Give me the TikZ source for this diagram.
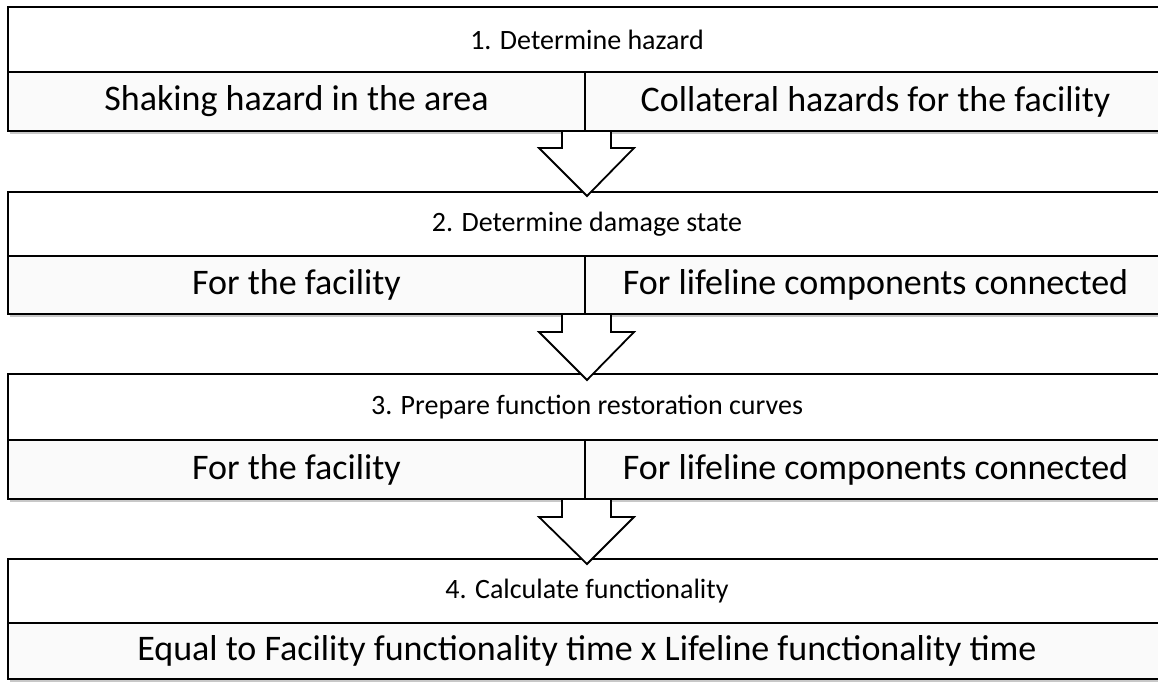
\documentclass[tikz,border=0pt]{standalone}
\usepackage{fontspec}
\setmainfont{Carlito}
\definecolor{lowfill}{HTML}{FAFAFA}
\definecolor{shadowc}{HTML}{C8C8C8}
\begin{document}
\begin{tikzpicture}[x=1pt,y=-1pt,
  hdr/.style={draw, line width=1.8pt, fill=white, inner sep=0pt, outer sep=0pt,
    minimum width=1158pt, font=\fontsize{28}{32}\selectfont},
  cell/.style={draw, line width=1.8pt, fill=lowfill, inner sep=0pt, outer sep=0pt,
    font=\fontsize{36}{40}\selectfont},
  lcell/.style={cell, minimum width=577pt},
  rcell/.style={cell, minimum width=581pt},
  wcell/.style={cell, minimum width=1158pt},
  blockarrow/.style={draw, line width=1.8pt, fill=white, line join=miter},
  shadowbox/.style={fill=shadowc}]
\useasboundingbox (0,0) rectangle (1158,681);
\clip (0,0) rectangle (1158,681);
\fill[white] (0,0) rectangle (1158,681);

% shadows
\fill[shadowbox] (10,9) rectangle (1168,134);
\fill[shadowbox] (10,194) rectangle (1168,317);
\fill[shadowbox] (10,376) rectangle (1168,502);
\fill[shadowbox] (10,561) rectangle (1168,682);

% row 1
\node[hdr, minimum height=65pt] (h1) at (587,39.5) {1. Determine hazard};
\node[lcell, minimum height=59pt] (l1) at (296.5,101.5) {Shaking hazard in the area};
\node[rcell, minimum height=59pt] (r1) at (875.5,101.5) {Collateral hazards for the facility};

% row 2
\node[hdr, minimum height=64pt] (h2) at (587,224) {2. Determine damage state};
\node[lcell, minimum height=58pt] (l2) at (296.5,285) {For the facility};
\node[rcell, minimum height=58pt] (r2) at (875.5,285) {For lifeline components connected};

% row 3
\node[hdr, minimum height=66pt] (h3) at (587,407) {3. Prepare function restoration curves};
\node[lcell, minimum height=59pt] (l3) at (296.5,469.5) {For the facility};
\node[rcell, minimum height=59pt] (r3) at (875.5,469.5) {For lifeline components connected};

% row 4
\node[hdr, minimum height=64pt] (h4) at (587,591) {4. Calculate functionality};
\node[wcell, minimum height=56pt] (l4) at (587,651) {Equal to Facility functionality time x Lifeline functionality time};

% block arrows
\draw[blockarrow] (562,132) -- (562,148) -- (539,148) -- (587,196) -- (634,148) -- (611,148) -- (611,132);
\draw[blockarrow] (562,315) -- (562,332) -- (539,332) -- (587,380) -- (634,332) -- (611,332) -- (611,315);
\draw[blockarrow] (562,500) -- (562,517) -- (539,517) -- (587,564) -- (634,517) -- (611,517) -- (611,500);
\end{tikzpicture}
\end{document}
